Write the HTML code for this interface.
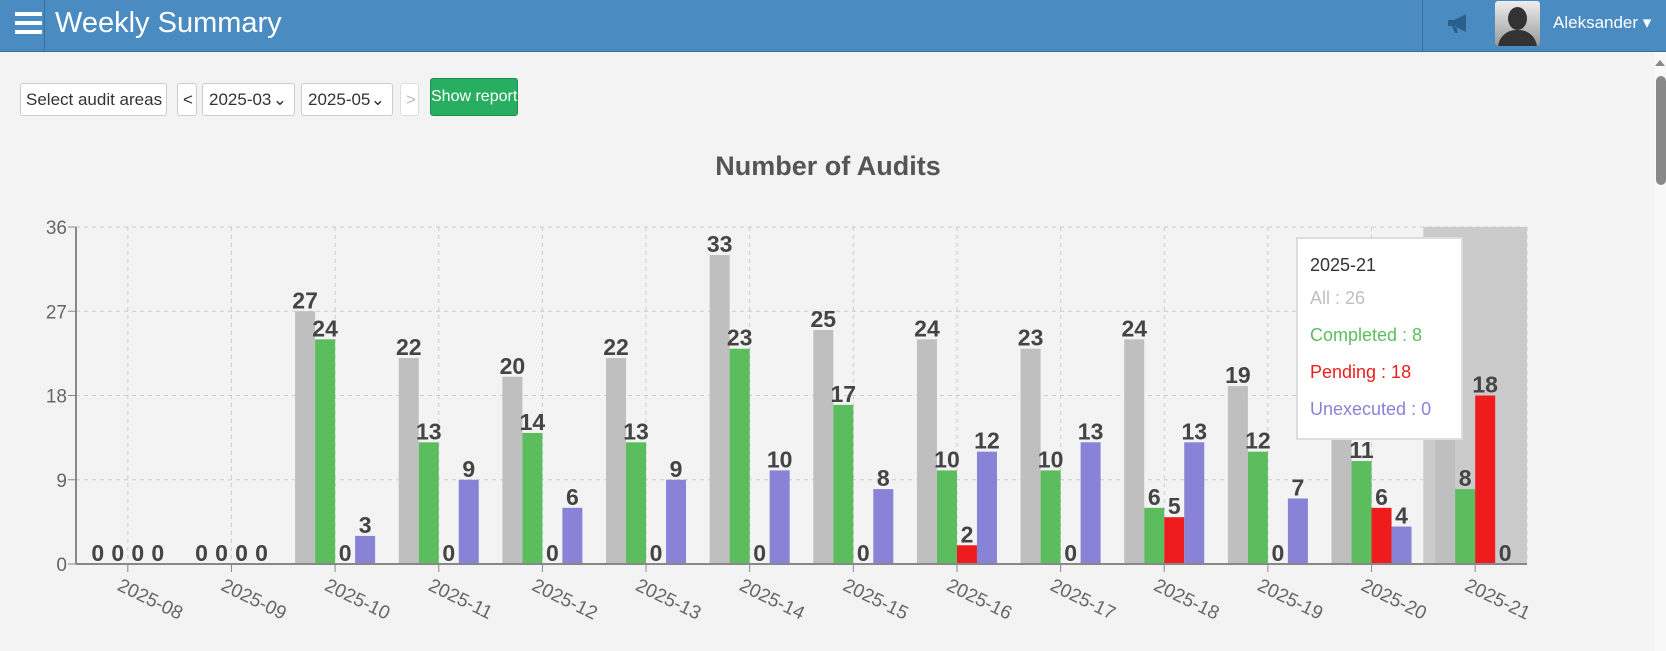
<!DOCTYPE html>
<html><head><meta charset="utf-8"><style>
body{margin:0;width:1666px;height:651px;overflow:hidden;background:#f3f3f3;font-family:"Liberation Sans",sans-serif;position:relative}
.hdr{position:absolute;left:0;top:0;width:1666px;height:51px;background:#4a8bc2;border-bottom:1px solid #3a6f9c}
.ctl{position:absolute;box-sizing:border-box;background:#fff;border:1px solid #ccc;border-radius:3px;font-size:17px;color:#333;line-height:31px;padding-left:6px;white-space:nowrap;overflow:hidden}
</style></head><body>
<div class="hdr">
 <div style="position:absolute;left:15px;top:12px;width:27px;height:4px;background:#fff;box-shadow:0 9px 0 #fff,0 18px 0 #fff"></div>
 <div style="position:absolute;left:44px;top:0;width:1px;height:51px;background:#3a6f9c"></div>
 <div style="position:absolute;left:55px;top:7px;font-size:29px;color:#fff">Weekly Summary</div>
 <div style="position:absolute;left:1422px;top:0;width:1px;height:51px;background:#3a6f9c"></div>
 <svg style="position:absolute;left:1447px;top:13px" width="24" height="22"><path d="M1 7h6l12-6v18l-12-6h-6z M5 13l3 7h3l-2-7z" fill="#2a5f8c"/></svg>
 <div style="position:absolute;left:1495px;top:1px;width:45px;height:45px;border-radius:3px;background:linear-gradient(#eee,#999);overflow:hidden"><div style="position:absolute;left:13px;top:6px;width:19px;height:23px;border-radius:50%;background:#333"></div><div style="position:absolute;left:3px;top:29px;width:39px;height:25px;border-radius:18px 18px 0 0;background:#333"></div></div>
 <div style="position:absolute;left:1553px;top:13px;font-size:17px;color:#fff">Aleksander ▾</div>
</div>
<div style="position:absolute;left:1654px;top:52px;width:12px;height:599px;background:#f8f8f8"></div>
<div style="position:absolute;left:1656px;top:76px;width:10px;height:109px;background:#888;border-radius:5px"></div>
<div style="position:absolute;left:1655px;top:60px;width:0;height:0;border-left:5px solid transparent;border-right:5px solid transparent;border-bottom:6px solid #888"></div>

<div class="ctl" style="left:20px;top:83px;width:147px;height:33px;padding-left:5px">Select audit areas ⌄</div>
<div class="ctl" style="left:177px;top:83px;width:20px;height:33px;padding-left:5px">&lt;</div>
<div class="ctl" style="left:202px;top:83px;width:93px;height:33px">2025-03 <span style="position:absolute;right:7px">⌄</span></div>
<div class="ctl" style="left:301px;top:83px;width:92px;height:33px">2025-05 <span style="position:absolute;right:7px">⌄</span></div>
<div class="ctl" style="left:400px;top:83px;width:19px;height:33px;padding-left:5px;color:#bbb;border-color:#ddd">&gt;</div>
<div style="position:absolute;left:430px;top:78px;width:88px;height:38px;box-sizing:border-box;background:#27ae60;border:1px solid #1e8e4e;border-radius:3px;color:#fff;font-size:16px;line-height:36px;text-align:center;white-space:nowrap">Show report</div>

<svg style="position:absolute;left:0;top:0" width="1666" height="651" font-family="Liberation Sans, sans-serif">
<text x="828" y="175" text-anchor="middle" font-size="27" font-weight="bold" fill="#555">Number of Audits</text>
<g id="c"></g>
</svg>
<script>
const all=[0,0,27,22,20,22,33,25,24,23,24,19,21,26],comp=[0,0,24,13,14,13,23,17,10,10,6,12,11,8],pend=[0,0,0,0,0,0,0,0,2,0,5,0,6,18],une=[0,0,3,9,6,9,10,8,12,13,13,7,4,0];
const L=76,R=1527,T=227,B=564,bw=(R-L)/14,k=(B-T)/36;let s='';
s+=`<rect x="${L+13*bw}" y="${T}" width="${bw}" height="${B-T}" fill="#cbcbcb"/>`;
for(let i=0;i<=4;i++){const y=B-i*9*k;s+=`<text x="67" y="${y+7}" text-anchor="end" font-size="19" fill="#666">${i*9}</text><line x1="${L-8}" x2="${L}" y1="${y}" y2="${y}" stroke="#888"/>`;if(i>0)s+=`<line x1="${L}" x2="${R}" y1="${y}" y2="${y}" stroke="#ccc" stroke-dasharray="4,4"/>`;}
s+=`<line x1="${R}" x2="${R}" y1="${T}" y2="${B}" stroke="#ccc" stroke-dasharray="4,4"/>`;
const cols=['#bfbfbf','#5cbd5e','#ee1c1c','#8883d6'],ds=[all,comp,pend,une];
for(let i=0;i<14;i++){const c=L+bw/2+i*bw;
s+=`<line x1="${c}" x2="${c}" y1="${T}" y2="${B}" stroke="#ccc" stroke-dasharray="4,4"/><line x1="${c}" x2="${c}" y1="${B}" y2="${B+8}" stroke="#888"/>`;
s+=`<text transform="translate(${c-6},${B+14}) rotate(26)" font-size="19" fill="#666" dominant-baseline="hanging">2025-${String(i+8).padStart(2,'0')}</text>`;
for(let j=0;j<4;j++){const v=ds[j][i],x=c-40+j*20,h=v*k;
if(v)s+=`<rect x="${x}" y="${B-h}" width="20" height="${h}" fill="${cols[j]}"/>`;
if(!(i==12&&j==0))s+=`<text x="${x+10}" y="${B-h-3}" text-anchor="middle" font-size="23" font-weight="bold" fill="#444">${v}</text>`;}}
s+=`<line x1="${L}" x2="${L}" y1="${T}" y2="${B}" stroke="#888" stroke-width="2"/><line x1="${L}" x2="${R}" y1="${B}" y2="${B}" stroke="#888" stroke-width="2"/>`;
s+=`<rect x="1297" y="238" width="165" height="201" fill="#fff" stroke="#ddd" stroke-width="2"/>
<g font-size="18"><text x="1310" y="271" fill="#333">2025-21</text><text x="1310" y="304" fill="#bfbfbf">All : 26</text><text x="1310" y="341" fill="#5cbd5e">Completed : 8</text><text x="1310" y="378" fill="#ee1c1c">Pending : 18</text><text x="1310" y="415" fill="#8883d6">Unexecuted : 0</text></g>`;
document.getElementById('c').innerHTML=s;
</script>
</body></html>
